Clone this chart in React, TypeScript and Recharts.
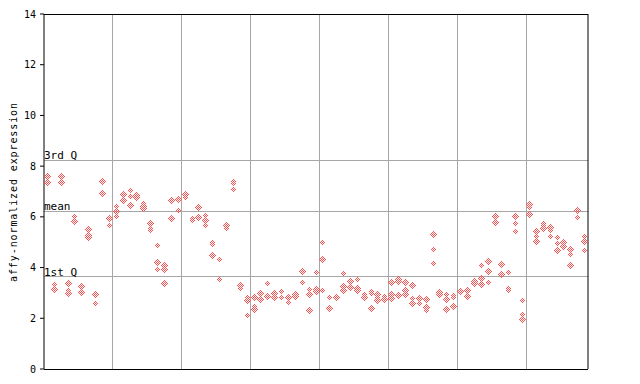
import React from 'react';
import { ScatterChart, Scatter, XAxis, YAxis, ReferenceLine } from 'recharts';

// replicate expression values per sample (79 samples, left to right)
const expressionValues: number[][] = [
  [7.58, 7.36],
  [3.35, 3.13],
  [7.6, 7.35, 7.31],
  [3.39, 3.08, 2.98],
  [6.03, 5.82, 5.78],
  [3.26, 3.03, 2.99],
  [5.51, 5.28, 5.19],
  [2.94, 2.59],
  [7.41, 7.37, 6.93],
  [5.95, 5.91, 5.67],
  [6.41, 6.22, 6.03],
  [6.91, 6.87, 6.63],
  [7.05, 6.81, 6.46],
  [6.86, 6.78, 6.74],
  [6.51, 6.4, 6.32],
  [5.74, 5.56, 5.47],
  [4.88, 4.21, 3.93],
  [4.1, 3.92, 3.39],
  [6.66, 5.92],
  [6.69, 6.26],
  [6.88, 6.84, 6.76],
  [5.94, 5.86],
  [6.36, 5.98],
  [6.05, 5.84, 5.65],
  [4.99, 4.92, 4.46],
  [4.33, 3.54],
  [5.7, 5.66, 5.55],
  [7.41, 7.31, 7.09],
  [3.31, 3.27, 3.18],
  [2.81, 2.72, 2.12],
  [2.83, 2.45, 2.35],
  [2.96, 2.78, 2.74],
  [3.38, 2.91, 2.87],
  [3.03, 2.99, 2.83],
  [3.04, 2.83],
  [2.81, 2.64],
  [2.94, 2.86, 2.82],
  [3.9, 3.86, 3.42],
  [3.15, 2.94, 2.29],
  [3.79, 3.12, 3.05],
  [5.0, 4.33, 3.09],
  [2.83, 2.39, 2.35],
  [2.83, 2.79],
  [3.75, 3.27, 3.09],
  [3.46, 3.22],
  [3.51, 3.17, 3.08],
  [2.92, 2.83, 2.79],
  [3.05, 2.97, 2.38],
  [2.92, 2.81, 2.72],
  [2.87, 2.79, 2.75],
  [3.42, 2.94, 2.77],
  [3.54, 3.44, 2.91],
  [3.42, 3.1, 2.92],
  [3.31, 2.78, 2.59],
  [2.83, 2.79, 2.59],
  [2.76, 2.43, 2.31],
  [5.31, 4.72, 4.17],
  [3.0, 2.92],
  [2.94, 2.73, 2.35],
  [2.89, 2.81, 2.47],
  [3.07, 3.03],
  [3.08, 2.87, 2.83],
  [3.47, 3.4, 3.36],
  [4.1, 3.57, 3.34],
  [4.25, 3.85, 3.42],
  [6.02, 5.79, 5.75],
  [4.12, 3.78, 3.74],
  [3.81, 3.17, 3.08],
  [6.02, 5.74, 5.43],
  [2.71, 2.16, 1.96],
  [6.48, 6.37, 6.1],
  [5.44, 5.24, 5.03],
  [5.72, 5.64, 5.55],
  [5.57, 5.48, 5.23],
  [5.17, 4.96, 4.68],
  [4.97, 4.82, 4.78],
  [4.72, 4.5, 4.1],
  [6.3, 6.26, 5.98],
  [5.21, 5.03, 4.68],
];

const quartileLabels = ['3rd Q', 'mean', '1st Q'];
const quartileValues = [8.23, 6.23, 3.63];
const yTicks = [0, 2, 4, 6, 8, 10, 12, 14];
const groupBoundaries = [9.5, 19.5, 29.5, 39.5, 49.5, 59.5, 69.5];
const yAxisTitle = 'affy-normalized expression';

const RED = '#ff5050';
const GRID = '#a6a6a6';
const FONT = '"DejaVu Sans Mono", monospace';

const points = expressionValues.flatMap((vals, i) => vals.map((v) => ({ x: i, y: v })));

function CheckerDiamond(props: any) {
  const { cx, cy } = props;
  if (cx == null || cy == null || isNaN(cx) || isNaN(cy)) return null;
  const X = Math.round(cx - 0.5);
  const Y = Math.round(cy - 0.5);
  const rects: React.ReactNode[] = [];
  for (let dy = -3; dy <= 3; dy++) {
    for (let dx = -3; dx <= 3; dx++) {
      if (Math.abs(dx) + Math.abs(dy) > 3) continue;
      if (((X + dx + Y + dy) & 1) !== 0) continue;
      rects.push(<rect key={`${dx}_${dy}`} x={X + dx} y={Y + dy} width={1} height={1} />);
    }
  }
  return (
    <g fill={RED} shapeRendering="crispEdges">
      {rects}
    </g>
  );
}

export default function App() {
  return (
    <div style={{ width: 632, height: 376 }}>
      <ScatterChart width={632} height={376} margin={{ top: 6, right: 48, bottom: 15, left: 0 }}>
        <XAxis xAxisId="m" type="number" dataKey="x" domain={[-0.5, 78.5]} hide />
        <YAxis
          yAxisId="l"
          type="number"
          dataKey="y"
          domain={[0, 14]}
          ticks={yTicks}
          width={36}
          tickSize={4}
          tickMargin={4}
          axisLine={{ stroke: '#000', strokeWidth: 1 }}
          tickLine={{ stroke: '#000', strokeWidth: 1 }}
          tick={{ fill: '#000', fontSize: 10, fontFamily: FONT }}
          label={() => (
            <text
              transform="translate(8.5,184) rotate(-90)"
              textAnchor="middle"
              fontSize={10}
              fontFamily={FONT}
              letterSpacing={0.9}
              fill="#000"
            >
              {yAxisTitle}
            </text>
          )}
        />
        <YAxis
          yAxisId="r"
          orientation="right"
          type="number"
          domain={[0, 14]}
          ticks={yTicks}
          width={4}
          tickSize={-4}
          tickFormatter={() => ''}
          axisLine={{ stroke: '#000', strokeWidth: 1 }}
          tickLine={{ stroke: '#000', strokeWidth: 1 }}
        />
        {groupBoundaries.map((b) => (
          <ReferenceLine
            key={`g${b}`}
            xAxisId="m"
            yAxisId="l"
            x={b}
            stroke={GRID}
            strokeWidth={1}
            shapeRendering="crispEdges"
          />
        ))}
        {quartileValues.map((q, k) => (
          <ReferenceLine
            key={`q${k}`}
            xAxisId="m"
            yAxisId="l"
            y={q}
            stroke={GRID}
            strokeWidth={1}
            shapeRendering="crispEdges"
            label={(p: any) => {
              const vb = p.viewBox || {};
              return (
                <text x={vb.x} y={(vb.y ?? 0) - 1} fontSize={11} fontFamily={FONT} fill="#000">
                  {quartileLabels[k]}
                </text>
              );
            }}
          />
        ))}
        <ReferenceLine xAxisId="m" yAxisId="l" y={0} stroke="#000" strokeWidth={1} shapeRendering="crispEdges" />
        <ReferenceLine xAxisId="m" yAxisId="l" y={14} stroke="#000" strokeWidth={1} shapeRendering="crispEdges" />
        <Scatter
          xAxisId="m"
          yAxisId="l"
          data={points}
          isAnimationActive={false}
          shape={(p: any) => <CheckerDiamond {...p} />}
        />
      </ScatterChart>
    </div>
  );
}
